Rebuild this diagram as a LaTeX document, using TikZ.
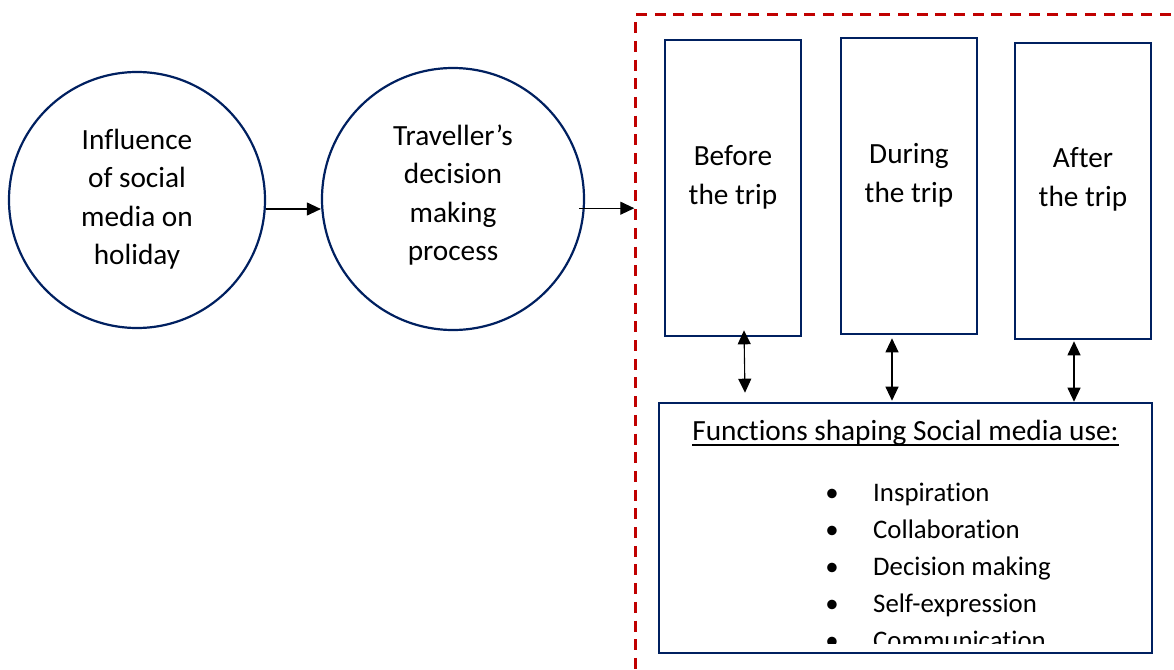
\documentclass[tikz,border=0pt]{standalone}
\usepackage{fontspec}
\setmainfont{Carlito}[Ligatures=NoCommon]
\usetikzlibrary{arrows.meta,calc}
\definecolor{navy}{RGB}{0,32,96}
\definecolor{dred}{RGB}{192,0,0}
\begin{document}
\begin{tikzpicture}[x=1pt,y=-1pt,
  txt/.style={font=\fontsize{29.3}{38.5}\selectfont, align=center, inner sep=0pt},
  item/.style={font=\fontsize{26.8}{30}\selectfont, inner sep=0pt},
  circ/.style={circle, draw=navy, line width=2.2pt, inner sep=0pt},
  stage/.style={rectangle, draw=navy, line width=2.6pt, minimum width=136pt, minimum height=296pt, inner sep=0pt},
  arr/.style={-{Triangle[length=14pt,width=13pt]}, line width=1.1pt},
  darr/.style={{Triangle[length=14pt,width=13pt]}-{Triangle[length=14pt,width=13pt]}, line width=1.1pt}]
\clip (0,0) rectangle (1174,669);
\fill[white] (0,0) rectangle (1174,669);
% dashed frame
\node[draw=dred, line width=2.9pt, dash pattern=on 11pt off 7.7pt, anchor=north west,
      minimum width=600pt, minimum height=700pt, inner sep=0pt] (frame) at (634.3,13.3) {};
% circles
\node[circ, minimum size=256pt] (c1) at (137,200) {};
\node[txt] (t1) at (137,199) {Influence\\of social\\media on\\holiday};
\node[circ, minimum size=262pt] (c2) at (453,199) {};
\node[txt] (t2) at (453,195) {Traveller’s\\decision\\making\\process};
\draw[arr] (c1.-4) -- (c1.-4 -| c2.west);
\draw[arr] ($(c2.-4)+(-6,0)$) -- (c2.-4 -| frame.west);
% stage boxes
\node[stage] (b1) at (733,188) {};
\node[txt] (tb1) at (733,177.5) {Before\\the trip};
\node[stage] (b2) at (909,186) {};
\node[txt] (tb2) at (909,175.5) {During\\the trip};
\node[stage] (b3) at (1083,191) {};
\node[txt] (tb3) at (1083,179.5) {After\\the trip};
% functions box
\node[rectangle, draw=navy, line width=2.6pt, minimum width=493pt, minimum height=250pt, inner sep=0pt] (fn) at (905.5,528) {};
\node[txt, anchor=base] (head) at (905.5,440) {Functions shaping Social media use:};
\draw[line width=2pt] ($(head.base west)+(0,5)$) -- ($(head.base east)+(0,5)$);
\begin{scope}
\clip (fn.south west) ++(2,-11) rectangle (fn.north east);
\foreach \i/\t in {0/Inspiration,1/Collaboration,2/Decision making,3/Self-expression,4/Communication}{
  \node[item, anchor=base] (bul\i) at (832,501+37*\i) {•};
  \node[item, anchor=base west] (it\i) at (873,501+37*\i) {\t};
}
\end{scope}
% double arrows
\draw[darr] ($(b1.south)+(11,-7)$) -- ($(b1.south |- fn.north)+(12,-9)$);
\draw[darr] ($(b2.south)+(-17,3)$) -- ($(b2.south |- fn.north)+(-17,-1)$);
\draw[darr] ($(b3.south)+(-9,1)$) -- ($(b3.south |- fn.north)+(-9,0)$);
\end{tikzpicture}
\end{document}
